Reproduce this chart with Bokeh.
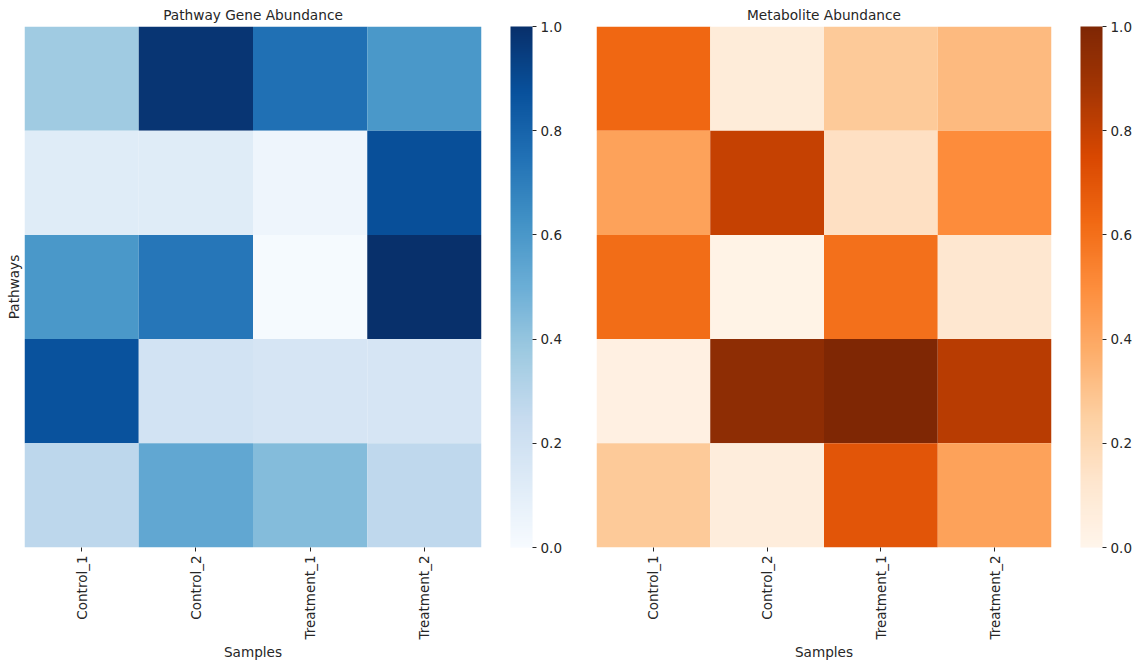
import math
from bokeh.plotting import figure
from bokeh.models import ColumnDataSource, LinearColorMapper, ColorBar, FixedTicker, PrintfTickFormatter, FactorRange, Title
from bokeh.layouts import row
from bokeh.palettes import Blues256, Oranges256
from bokeh.transform import transform
from bokeh.embed import file_html
from bokeh.resources import INLINE

samples = ["Control_1", "Control_2", "Treatment_1", "Treatment_2"]
pathways = ["Pathway_1", "Pathway_2", "Pathway_3", "Pathway_4", "Pathway_5"]

# rows = pathways (top to bottom), columns = samples
gene_abundance = [
    [0.37, 0.98, 0.75, 0.60],
    [0.12, 0.12, 0.05, 0.88],
    [0.60, 0.73, 0.01, 1.00],
    [0.87, 0.19, 0.17, 0.17],
    [0.28, 0.53, 0.44, 0.27],
]
metabolite_abundance = [
    [0.63, 0.08, 0.27, 0.33],
    [0.42, 0.80, 0.16, 0.50],
    [0.61, 0.02, 0.60, 0.12],
    [0.04, 0.95, 1.00, 0.83],
    [0.27, 0.07, 0.70, 0.42],
]
cbar_ticks = [0.0, 0.2, 0.4, 0.6, 0.8, 1.0]

TXT = "#262626"
FONT = "DejaVu Sans"


def heat(title, data, palette, frame_w, ylabel, border_left, border_right):
    xs, ys, vs = [], [], []
    for i, pw in enumerate(pathways):
        for j, s in enumerate(samples):
            xs.append(s)
            ys.append(pw)
            vs.append(data[i][j])
    src = ColumnDataSource(dict(x=xs, y=ys, v=vs))
    mapper = LinearColorMapper(palette=palette, low=0.0, high=1.0)
    p = figure(x_range=FactorRange(*samples), y_range=FactorRange(*pathways[::-1]),
               frame_width=frame_w, frame_height=521, output_backend="svg",
               toolbar_location=None, min_border_left=border_left,
               min_border_right=border_right, min_border_top=0, min_border_bottom=0)
    p.rect(x="x", y="y", width=1, height=1, source=src,
           fill_color=transform("v", mapper), line_color=None)
    p.title.text = title
    p.title.align = "center"
    p.title.text_font = FONT
    p.title.text_font_style = "normal"
    p.title.text_font_size = "13.7px"
    p.title.text_color = TXT
    p.title.standoff = 8
    p.outline_line_color = None
    p.xgrid.visible = False
    p.ygrid.visible = False
    p.x_range.range_padding = 0
    p.y_range.range_padding = 0

    xa = p.xaxis[0]
    xa.axis_label = "Samples"
    xa.axis_label_text_font = FONT
    xa.axis_label_text_font_style = "normal"
    xa.axis_label_text_font_size = "13.6px"
    xa.axis_label_text_color = TXT
    xa.axis_label_standoff = 1
    xa.major_label_orientation = math.pi / 2
    xa.major_label_text_font = FONT
    xa.major_label_text_font_size = "13.5px"
    xa.major_label_text_color = TXT
    xa.major_tick_out = 4
    xa.major_tick_in = 0
    xa.major_tick_line_color = TXT
    xa.axis_line_color = None
    xa.minor_tick_line_color = None
    xa.major_label_standoff = 4

    p.yaxis[0].visible = False
    if ylabel:
        yt = Title(text=ylabel, align="center", text_font=FONT, text_font_style="normal",
                   text_font_size="13.6px", text_color=TXT, standoff=6, offset=0)
        p.add_layout(yt, "left")

    cb = ColorBar(color_mapper=mapper, ticker=FixedTicker(ticks=cbar_ticks),
                  formatter=PrintfTickFormatter(format="%.1f"),
                  width=22, height=521, margin=0, padding=0, location=(29, 0),
                  major_tick_out=4, major_tick_in=0, major_tick_line_color=TXT,
                  minor_tick_line_color=None, bar_line_color=None,
                  border_line_color=None, background_fill_color=None,
                  major_label_text_font=FONT, major_label_text_font_size="13.5px",
                  major_label_text_color=TXT, label_standoff=4)
    p.add_layout(cb, "right")
    return p


p1 = heat("Pathway Gene Abundance", gene_abundance, list(Blues256[::-1]), 457, "Pathways", 16, 99)
p2 = heat("Metabolite Abundance", metabolite_abundance, list(Oranges256[::-1]), 455, None, 16, 80)

layout = row(p1, p2, spacing=0)
open("out.html", "w").write(file_html(layout, INLINE))
